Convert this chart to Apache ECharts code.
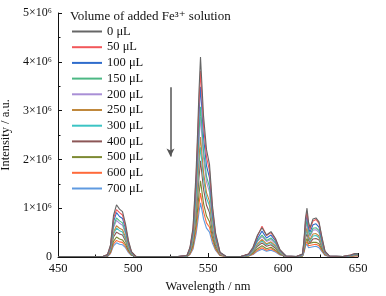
<!DOCTYPE html>
<html>
<head>
<meta charset="utf-8">
<script src="https://cdn.jsdelivr.net/npm/echarts@6/dist/echarts.min.js"></script>
<style>
  html, body { margin: 0; padding: 0; background: #fff; }
  #chart { width: 386px; height: 296px; }
</style>
</head>
<body>
<div id="chart"></div>
<script>
// wavelength (nm) shared by all spectra
const wavelengths = [450, 480, 483, 485, 487, 489, 491, 493, 495, 497, 499, 502,
  530, 536, 538, 540, 542, 543, 544, 545, 546, 547, 549, 551, 553, 555, 558, 562,
  572, 577, 580, 583, 586, 589, 592, 595, 598, 602,
  609, 613, 614, 615, 616, 617, 618, 620, 622, 624, 626, 628, 631,
  640, 645, 648, 650]

// intensity in units of 10^6 a.u.
const v0 = [0.01, 0.01, 0.05, 0.25, 0.85, 1.07, 0.98, 0.93, 0.68, 0.33, 0.11, 0.01,
  0.01, 0.03, 0.20, 0.60, 1.70, 2.50, 3.40, 4.10, 3.50, 2.90, 2.20, 1.90, 1.05, 0.50, 0.10, 0.01,
  0.01, 0.06, 0.20, 0.45, 0.60, 0.45, 0.52, 0.38, 0.15, 0.02,
  0.01, 0.06, 0.35, 0.80, 1.00, 0.72, 0.60, 0.78, 0.80, 0.72, 0.40, 0.12, 0.02,
  0.01, 0.04, 0.07, 0.07]
const v50 = [0.01, 0.01, 0.05, 0.23, 0.79, 0.97, 0.91, 0.86, 0.63, 0.31, 0.10, 0.01,
  0.01, 0.03, 0.19, 0.56, 1.58, 2.33, 3.16, 3.81, 3.26, 2.70, 2.05, 1.77, 0.98, 0.47, 0.09, 0.01,
  0.01, 0.06, 0.19, 0.43, 0.63, 0.44, 0.50, 0.36, 0.14, 0.02,
  0.01, 0.06, 0.33, 0.74, 0.93, 0.67, 0.56, 0.74, 0.77, 0.69, 0.38, 0.11, 0.02,
  0.01, 0.04, 0.07, 0.07]
const v100 = [0.01, 0.01, 0.04, 0.21, 0.72, 0.91, 0.83, 0.79, 0.58, 0.28, 0.09, 0.01,
  0.01, 0.03, 0.17, 0.51, 1.45, 2.13, 2.89, 3.49, 2.98, 2.47, 1.87, 1.62, 0.89, 0.43, 0.09, 0.01,
  0.01, 0.05, 0.17, 0.38, 0.53, 0.39, 0.45, 0.33, 0.13, 0.02,
  0.01, 0.05, 0.30, 0.68, 0.85, 0.61, 0.51, 0.66, 0.68, 0.61, 0.34, 0.10, 0.02,
  0.01, 0.03, 0.06, 0.06]
const v150 = [0.01, 0.01, 0.04, 0.19, 0.64, 0.80, 0.74, 0.70, 0.51, 0.25, 0.08, 0.01,
  0.01, 0.02, 0.15, 0.45, 1.28, 1.88, 2.55, 3.08, 2.63, 2.18, 1.65, 1.43, 0.79, 0.38, 0.08, 0.01,
  0.01, 0.05, 0.15, 0.34, 0.45, 0.34, 0.39, 0.29, 0.11, 0.02,
  0.01, 0.05, 0.26, 0.60, 0.75, 0.54, 0.45, 0.59, 0.60, 0.54, 0.30, 0.09, 0.02,
  0.01, 0.03, 0.05, 0.05]
const v200 = [0.01, 0.01, 0.04, 0.18, 0.60, 0.75, 0.69, 0.65, 0.48, 0.23, 0.08, 0.01,
  0.01, 0.02, 0.14, 0.42, 1.19, 1.75, 2.38, 2.87, 2.45, 2.03, 1.54, 1.33, 0.74, 0.35, 0.07, 0.01,
  0.01, 0.04, 0.14, 0.32, 0.42, 0.32, 0.36, 0.27, 0.11, 0.01,
  0.01, 0.04, 0.25, 0.56, 0.70, 0.50, 0.42, 0.55, 0.56, 0.50, 0.28, 0.08, 0.01,
  0.01, 0.03, 0.05, 0.05]
const v250 = [0.01, 0.01, 0.03, 0.15, 0.51, 0.64, 0.59, 0.56, 0.41, 0.20, 0.07, 0.01,
  0.01, 0.02, 0.12, 0.36, 1.02, 1.50, 2.04, 2.46, 2.10, 1.74, 1.32, 1.14, 0.63, 0.30, 0.06, 0.01,
  0.01, 0.04, 0.12, 0.27, 0.36, 0.27, 0.31, 0.23, 0.09, 0.01,
  0.01, 0.04, 0.21, 0.48, 0.60, 0.43, 0.36, 0.47, 0.48, 0.43, 0.24, 0.07, 0.01,
  0.01, 0.02, 0.04, 0.04]
const v300 = [0.01, 0.01, 0.03, 0.14, 0.47, 0.59, 0.54, 0.51, 0.37, 0.18, 0.06, 0.01,
  0.01, 0.02, 0.11, 0.33, 0.94, 1.38, 1.87, 2.25, 1.93, 1.60, 1.21, 1.05, 0.58, 0.28, 0.06, 0.01,
  0.01, 0.03, 0.11, 0.25, 0.33, 0.25, 0.29, 0.21, 0.08, 0.01,
  0.01, 0.03, 0.19, 0.44, 0.55, 0.40, 0.33, 0.43, 0.44, 0.40, 0.22, 0.07, 0.01,
  0.01, 0.02, 0.04, 0.04]
const v400 = [0.01, 0.01, 0.02, 0.12, 0.41, 0.51, 0.47, 0.45, 0.33, 0.16, 0.05, 0.01,
  0.01, 0.01, 0.10, 0.29, 0.82, 1.20, 1.63, 1.97, 1.68, 1.39, 1.06, 0.91, 0.50, 0.24, 0.05, 0.01,
  0.01, 0.03, 0.10, 0.22, 0.29, 0.22, 0.25, 0.18, 0.07, 0.01,
  0.01, 0.03, 0.17, 0.38, 0.48, 0.35, 0.29, 0.37, 0.38, 0.35, 0.19, 0.06, 0.01,
  0.01, 0.02, 0.03, 0.03]
const v500 = [0.01, 0.01, 0.02, 0.10, 0.32, 0.41, 0.37, 0.35, 0.26, 0.13, 0.04, 0.01,
  0.01, 0.01, 0.08, 0.23, 0.65, 0.95, 1.29, 1.56, 1.33, 1.10, 0.84, 0.72, 0.40, 0.19, 0.04, 0.01,
  0.01, 0.02, 0.08, 0.17, 0.23, 0.17, 0.20, 0.14, 0.06, 0.01,
  0.01, 0.02, 0.13, 0.30, 0.38, 0.27, 0.23, 0.30, 0.30, 0.27, 0.15, 0.05, 0.01,
  0.01, 0.02, 0.03, 0.03]
const v600 = [0.01, 0.01, 0.02, 0.08, 0.27, 0.34, 0.31, 0.30, 0.22, 0.11, 0.04, 0.01,
  0.01, 0.01, 0.06, 0.19, 0.54, 0.80, 1.09, 1.31, 1.12, 0.93, 0.70, 0.61, 0.34, 0.16, 0.03, 0.01,
  0.01, 0.02, 0.06, 0.14, 0.19, 0.14, 0.17, 0.12, 0.05, 0.01,
  0.01, 0.02, 0.11, 0.26, 0.32, 0.23, 0.19, 0.25, 0.26, 0.23, 0.13, 0.04, 0.01,
  0.01, 0.01, 0.02, 0.02]
const v700 = [0.01, 0.01, 0.01, 0.07, 0.23, 0.29, 0.26, 0.25, 0.19, 0.09, 0.03, 0.01,
  0.01, 0.01, 0.05, 0.16, 0.46, 0.68, 0.92, 1.11, 0.95, 0.78, 0.59, 0.51, 0.28, 0.14, 0.03, 0.01,
  0.01, 0.02, 0.05, 0.12, 0.16, 0.12, 0.14, 0.10, 0.04, 0.01,
  0.01, 0.02, 0.09, 0.22, 0.27, 0.19, 0.16, 0.21, 0.22, 0.19, 0.11, 0.03, 0.01,
  0.01, 0.01, 0.02, 0.02]

const seriesNames = ['0 μL', '50 μL', '100 μL', '150 μL', '200 μL', '250 μL',
  '300 μL', '400 μL', '500 μL', '600 μL', '700 μL']
const seriesValues = [v0, v50, v100, v150, v200, v250, v300, v400, v500, v600, v700]
const colors = ['#666666', '#f2575a', '#2f6ccc', '#4cb884', '#a98fd6', '#c0883c',
  '#3cc4c4', '#8c5656', '#7d8a32', '#ff6a3a', '#5f9ae0']

const yTicks = [0, 1, 2, 3, 4, 5]
// arrow showing decreasing intensity (wavelength, from, to)
const arrowX = 525
const arrowFrom = 3.48
const arrowTo = 2.06

const font = '"Liberation Serif", "DejaVu Serif", serif'

const chart = echarts.init(document.getElementById('chart'), null, { renderer: 'canvas' })

const series = seriesNames.map((name, i) => ({
  name,
  type: 'line',
  symbol: 'none',
  data: wavelengths.map((w, j) => [w, seriesValues[i][j]]),
  lineStyle: { width: 1.1, color: colors[i] },
  itemStyle: { color: colors[i] },
  z: 20 - i,
  animation: false,
}))

series[0].markLine = {
  silent: true,
  symbol: ['none', 'arrow'],
  symbolSize: [6, 8],
  label: { show: false },
  lineStyle: { color: '#555', width: 1.5, type: 'solid' },
  data: [[{ coord: [arrowX, arrowFrom] }, { coord: [arrowX, arrowTo] }]],
}

chart.setOption({
  backgroundColor: '#fff',
  animation: false,
  textStyle: { fontFamily: font },
  title: {
    text: 'Volume of added Fe³⁺ solution',
    left: 65,
    top: 5,
    textStyle: { fontFamily: font, fontSize: 13, fontWeight: 'normal', color: '#111' },
  },
  legend: {
    orient: 'vertical',
    left: 66,
    top: 20,
    itemWidth: 30,
    itemHeight: 10,
    itemGap: 2.7,
    itemStyle: { opacity: 0 },
    textStyle: { fontFamily: font, fontSize: 12.5, color: '#111' },
    data: seriesNames,
  },
  grid: { left: 58, right: 28, top: 13, bottom: 39, outerBoundsMode: 'none' },
  xAxis: {
    type: 'value',
    min: 450,
    max: 650,
    interval: 50,
    name: 'Wavelength / nm',
    nameLocation: 'middle',
    nameGap: 18,
    nameTextStyle: { fontFamily: font, fontSize: 12.5, color: '#111' },
    axisLine: { show: true, lineStyle: { color: '#111', width: 1 } },
    axisTick: { show: true, inside: true, length: 4, lineStyle: { color: '#111' } },
    minorTick: { show: true, splitNumber: 2, length: 2.5, lineStyle: { color: '#111' } },
    axisLabel: { fontFamily: font, fontSize: 12.5, color: '#111', margin: 5 },
    splitLine: { show: false },
  },
  yAxis: {
    type: 'value',
    min: 0,
    max: 5,
    interval: 1,
    name: 'Intensity / a.u.',
    nameLocation: 'middle',
    nameGap: 39,
    nameTextStyle: { fontFamily: font, fontSize: 12.5, color: '#111' },
    axisLine: { show: true, lineStyle: { color: '#111', width: 1 } },
    axisTick: { show: true, inside: true, length: 4, lineStyle: { color: '#111' } },
    minorTick: { show: true, splitNumber: 2, length: 2.5, lineStyle: { color: '#111' } },
    axisLabel: {
      fontFamily: font, fontSize: 12, color: '#111', margin: 6,
      formatter: v => (yTicks.includes(v) ? (v === 0 ? '0' : v + '×10⁶') : ''),
    },
    splitLine: { show: false },
  },
  series,
})
</script>
</body>
</html>
